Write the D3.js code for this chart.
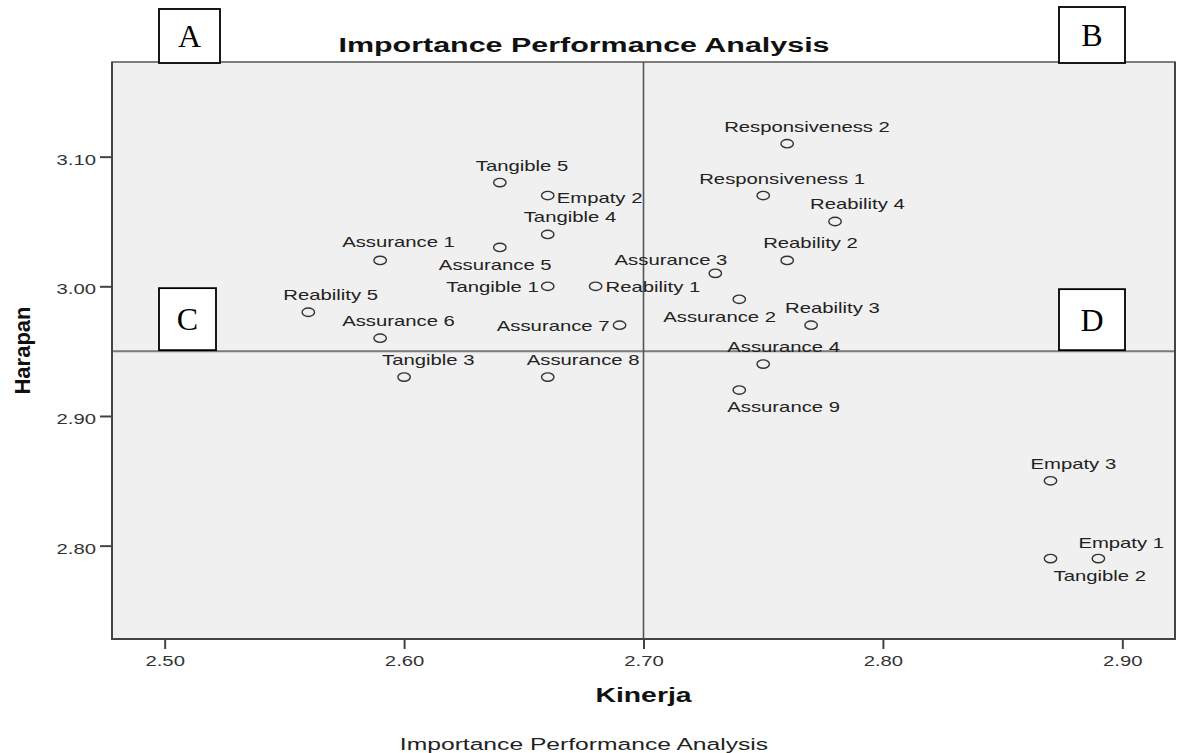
<!DOCTYPE html>
<html>
<head>
<meta charset="utf-8">
<script src="https://cdn.jsdelivr.net/npm/d3@7"></script>
<style>
  body { margin: 0; background: #fff; }
  svg { display: block; }
  text { font-family: "Liberation Sans", Arial, sans-serif; }
</style>
</head>
<body>
<div id="chart"></div>
<script>
// Data
const labels = [
  'Tangible 1', 'Tangible 2', 'Tangible 3', 'Tangible 4', 'Tangible 5',
  'Reability 1', 'Reability 2', 'Reability 3', 'Reability 4', 'Reability 5',
  'Responsiveness 1', 'Responsiveness 2',
  'Assurance 1', 'Assurance 2', 'Assurance 3', 'Assurance 4', 'Assurance 5',
  'Assurance 6', 'Assurance 7', 'Assurance 8', 'Assurance 9',
  'Empaty 1', 'Empaty 2', 'Empaty 3'
]
const kinerja = [
  2.66, 2.87, 2.60, 2.66, 2.64,
  2.68, 2.76, 2.77, 2.78, 2.56,
  2.75, 2.76,
  2.59, 2.74, 2.73, 2.75, 2.64,
  2.59, 2.69, 2.66, 2.74,
  2.89, 2.66, 2.87
]
const harapan = [
  3.00, 2.79, 2.93, 3.04, 3.08,
  3.00, 3.02, 2.97, 3.05, 2.98,
  3.07, 3.11,
  3.02, 2.99, 3.01, 2.94, 3.03,
  2.96, 2.97, 2.93, 2.92,
  2.79, 3.07, 2.85
]
const xTicks = [2.50, 2.60, 2.70, 2.80, 2.90]
const yTicks = [2.80, 2.90, 3.00, 3.10]
const meanKinerja = 2.70
const meanHarapan = 2.95
const quadrants = ['A', 'B', 'C', 'D']

const dataset = labels.map((d, i) => ({ label: d, x: kinerja[i], y: harapan[i] }))

// label placement (anchor, dx, dy in px from the marker), as SPSS laid them out
const labelPlacement = {
  'Tangible 1': ['end', -9, 6], 'Tangible 2': ['start', 3, 22], 'Tangible 3': ['start', -22, -12],
  'Tangible 4': ['start', -24, -12], 'Tangible 5': ['start', -24, -12],
  'Reability 1': ['start', 10, 6], 'Reability 2': ['start', -24, -12], 'Reability 3': ['start', -26, -12],
  'Reability 4': ['start', -25, -12], 'Reability 5': ['start', -25, -12],
  'Responsiveness 1': ['start', -64, -12], 'Responsiveness 2': ['start', -63, -12],
  'Assurance 1': ['start', -38, -13], 'Assurance 2': ['start', -76, 23], 'Assurance 3': ['end', 12, -8.5],
  'Assurance 4': ['start', -36, -12], 'Assurance 5': ['start', -61, 23], 'Assurance 6': ['start', -38, -12],
  'Assurance 7': ['end', -10, 5.5], 'Assurance 8': ['start', -21, -12], 'Assurance 9': ['start', -12, 22],
  'Empaty 1': ['start', -20, -11], 'Empaty 2': ['start', 9, 7], 'Empaty 3': ['start', -20, -12]
}

// Dimensions
const width = 1179
const height = 753
const plot = { left: 112, right: 1175, top: 62, bottom: 639 }
const stretch = 1.45   // the SPSS export is wide: text is drawn stretched horizontally

const svg = d3.select('#chart')
  .append('svg')
  .attr('width', width)
  .attr('height', height)

// Scales
const xScale = d3.scaleLinear()
  .domain([2.478, 2.922])
  .range([plot.left, plot.right])

const yScale = d3.scaleLinear()
  .domain([2.728, 3.173])
  .range([plot.bottom, plot.top])

// Plot background
svg.append('rect')
  .attr('x', plot.left)
  .attr('y', plot.top)
  .attr('width', plot.right - plot.left)
  .attr('height', plot.bottom - plot.top)
  .attr('fill', '#f0f0f0')

// Reference lines
svg.append('line')
  .attr('x1', plot.left).attr('x2', plot.right)
  .attr('y1', yScale(meanHarapan)).attr('y2', yScale(meanHarapan))
  .attr('stroke', '#7a7a7a')
  .attr('stroke-width', 2)

svg.append('line')
  .attr('x1', xScale(meanKinerja)).attr('x2', xScale(meanKinerja))
  .attr('y1', plot.top).attr('y2', plot.bottom)
  .attr('stroke', '#555')
  .attr('stroke-width', 1.6)

// Points
svg.append('g')
  .selectAll('ellipse')
  .data(dataset)
  .join('ellipse')
  .attr('cx', d => xScale(d.x))
  .attr('cy', d => yScale(d.y))
  .attr('rx', 6.2)
  .attr('ry', 4.2)
  .attr('fill', 'none')
  .attr('stroke', '#333')
  .attr('stroke-width', 1.4)

// Point labels
svg.append('g')
  .selectAll('g')
  .data(dataset)
  .join('g')
  .attr('transform', d => {
    const p = labelPlacement[d.label]
    return `translate(${xScale(d.x) + p[1]}, ${yScale(d.y) + p[2]}) scale(${stretch}, 1)`
  })
  .append('text')
  .attr('text-anchor', d => labelPlacement[d.label][0])
  .attr('font-size', 14)
  .attr('fill', '#222')
  .text(d => d.label)

// Frame
svg.append('rect')
  .attr('x', plot.left)
  .attr('y', plot.top)
  .attr('width', plot.right - plot.left)
  .attr('height', plot.bottom - plot.top)
  .attr('fill', 'none')
  .attr('stroke', '#555')
  .attr('stroke-width', 1.5)

svg.append('path')
  .attr('d', `M${plot.left},${plot.top}V${plot.bottom}H${plot.right}V${plot.top}`)
  .attr('fill', 'none')
  .attr('stroke', '#444')
  .attr('stroke-width', 2)

// Axis
// Y axis
const yAxis = d3.axisLeft(yScale)
  .tickValues(yTicks)
  .tickSize(12)
  .tickFormat(d3.format('.2f'))

const yAxisGroup = svg.append('g')
  .attr('transform', `translate(${plot.left}, 0)`)
  .call(yAxis)
yAxisGroup.select('.domain').remove()
yAxisGroup.selectAll('.tick line').attr('stroke', '#444').attr('stroke-width', 2)
yAxisGroup.selectAll('.tick text')
  .attr('x', -16 / stretch)
  .attr('y', 7.5)
  .attr('dy', null)
  .attr('transform', `scale(${stretch}, 1)`)
  .attr('font-size', 14)
  .attr('fill', '#333')

// X axis
const xAxis = d3.axisBottom(xScale)
  .tickValues(xTicks)
  .tickSize(10)
  .tickFormat(d3.format('.2f'))

const xAxisGroup = svg.append('g')
  .attr('transform', `translate(0, ${plot.bottom})`)
  .call(xAxis)
xAxisGroup.select('.domain').remove()
xAxisGroup.selectAll('.tick line').attr('stroke', '#444').attr('stroke-width', 2)
xAxisGroup.selectAll('.tick text')
  .attr('y', 27.5)
  .attr('dy', null)
  .attr('transform', `scale(${stretch}, 1)`)
  .attr('font-size', 14)
  .attr('fill', '#333')

// Axis titles
svg.append('text')
  .attr('transform', `translate(${(plot.left + plot.right) / 2}, 702) scale(1.35, 1)`)
  .attr('text-anchor', 'middle')
  .attr('font-size', 21)
  .attr('font-weight', 'bold')
  .attr('fill', '#111')
  .text('Kinerja')

svg.append('text')
  .attr('transform', `translate(29.5, ${(plot.top + plot.bottom) / 2}) rotate(-90)`)
  .attr('text-anchor', 'middle')
  .attr('font-size', 22)
  .attr('font-weight', 'bold')
  .attr('fill', '#111')
  .text('Harapan')

// Title and caption
svg.append('text')
  .attr('transform', `translate(584, 52) scale(${stretch}, 1)`)
  .attr('text-anchor', 'middle')
  .attr('font-size', 21)
  .attr('font-weight', 'bold')
  .attr('fill', '#111')
  .text('Importance Performance Analysis')

svg.append('text')
  .attr('transform', `translate(584, 750) scale(${stretch}, 1)`)
  .attr('text-anchor', 'middle')
  .attr('font-size', 17)
  .attr('fill', '#222')
  .text('Importance Performance Analysis')

// Quadrant boxes: A/B sit on the top border, C/D on the Harapan mean line
const yMean = yScale(meanHarapan)
const boxes = [
  { x: plot.left + 47, y: plot.top - 53, w: 61, h: 54 },
  { x: plot.right - 116, y: plot.top - 55, w: 66, h: 56 },
  { x: plot.left + 47, y: yMean - 63, w: 57, h: 62 },
  { x: plot.right - 116, y: yMean - 62, w: 66, h: 61 }
]

const boxGroups = svg.append('g')
  .selectAll('g')
  .data(quadrants)
  .join('g')

boxGroups.append('rect')
  .attr('x', (d, i) => boxes[i].x)
  .attr('y', (d, i) => boxes[i].y)
  .attr('width', (d, i) => boxes[i].w)
  .attr('height', (d, i) => boxes[i].h)
  .attr('fill', '#fff')
  .attr('stroke', '#000')
  .attr('stroke-width', 1.8)

boxGroups.append('text')
  .attr('x', (d, i) => boxes[i].x + boxes[i].w / 2)
  .attr('y', (d, i) => boxes[i].y + boxes[i].h / 2 + 11)
  .attr('text-anchor', 'middle')
  .attr('font-family', '"Liberation Serif", "Times New Roman", serif')
  .style('font-family', '"Liberation Serif", "Times New Roman", serif')
  .attr('font-size', 32)
  .attr('fill', '#000')
  .text(d => d)
</script>
</body>
</html>
